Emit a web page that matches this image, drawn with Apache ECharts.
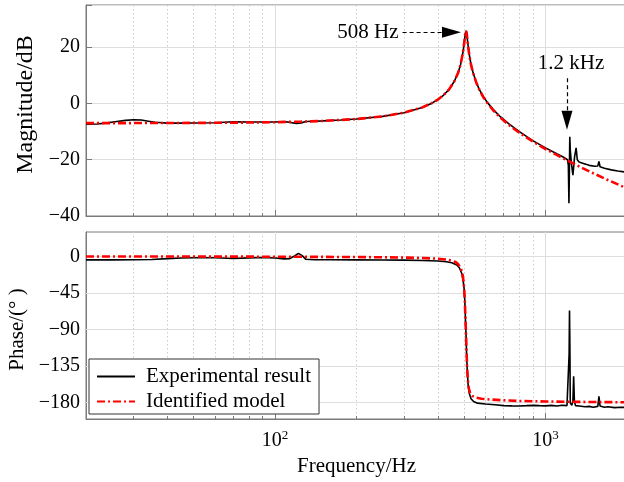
<!DOCTYPE html>
<html><head><meta charset="utf-8">
<script src="https://cdn.jsdelivr.net/npm/echarts@6/dist/echarts.min.js"></script>
<style>html,body{margin:0;padding:0;background:#fff}#c{width:624px;height:482px}</style>
</head><body><div id="c"></div>
<script>
// ---- data ----
const magModelFreq = [20,25,30,40,50,60,80,100,125,150,200,250,300,350,380,400,420,440,460,475,485,495,500,505,508,511,516,522,530,540,555,570,590,610,640,680,730,800,900,1000,1100,1200,1350,1500,1700,2000];
const magModel = [-7.0,-7.0,-6.97,-6.95,-6.91,-6.88,-6.78,-6.66,-6.46,-6.21,-5.54,-4.59,-3.27,-1.41,0.12,1.4,3.0,5.0,7.9,10.9,13.8,18.2,21.3,25.0,25.8,25.0,21.2,17.4,13.8,10.7,7.3,4.7,2.1,0.1,-2.4,-5.0,-7.6,-10.4,-13.6,-16.2,-18.3,-20.2,-22.7,-24.8,-27.2,-30.2];

const magExpFreq = [20,22,24,26,28,30,32,34,36,40,45,50,60,70,80,90,100,108,115,120,125,130,140,150,175,200,250,300,350,380,400,420,440,460,475,485,495,500,505,508,511,516,522,530,540,555,570,590,610,640,680,730,800,900,1000,1100,1180,1205,1214,1220,1224,1229,1234,1245,1262,1280,1297,1310,1330,1380,1450,1520,1560,1575,1590,1650,1750,1850,2000];
const magExp = [-7.4,-7.3,-6.9,-6.4,-6.0,-5.8,-5.9,-6.3,-6.7,-7.0,-7.0,-6.95,-6.85,-6.5,-6.6,-6.6,-6.6,-6.4,-6.8,-7.1,-6.9,-6.4,-6.3,-6.2,-5.9,-5.5,-4.6,-3.3,-1.4,0.1,1.4,3.0,5.0,7.9,10.9,13.8,18.2,21.2,24.9,25.9,25.0,21.3,17.5,13.9,10.8,7.4,4.8,2.3,0.3,-2.1,-4.7,-7.2,-10.0,-13.3,-15.8,-17.9,-19.4,-20.0,-22.0,-35.5,-26.0,-11.8,-16.5,-21.0,-25.5,-19.0,-15.8,-20.0,-20.8,-21.3,-22.0,-22.3,-22.2,-20.6,-22.5,-23.0,-23.6,-24.0,-24.5];

const phModelFreq = [20,50,100,150,200,250,300,350,400,430,450,465,475,485,492,497,500,503,506,508,510,513,516,520,526,535,550,580,620,700,800,1000,1300,1600,2000];
const phModel = [-0.1,-0.2,-0.4,-0.6,-0.8,-1.1,-1.5,-2.0,-2.8,-3.8,-5.2,-7.0,-9.5,-14,-20,-30,-40,-55,-80,-95,-115,-138,-152,-162,-168,-171.5,-173.5,-175,-176,-177,-177.8,-178.4,-178.9,-179.2,-179.4];

const phExpFreq = [20,25,30,35,40,45,50,60,70,80,90,100,108,113,118,122,126,130,140,160,200,250,300,350,400,430,450,470,480,490,495,500,503,506,508,510,513,517,522,530,542,560,600,650,700,750,800,850,900,950,1000,1050,1100,1150,1200,1218,1222,1226,1230,1234,1250,1262,1270,1278,1290,1330,1400,1450,1500,1560,1575,1590,1650,1700,1800,1900,2000];
const phExp = [-4.3,-4.3,-4.2,-3.8,-2.8,-2.0,-1.6,-1.7,-2.6,-1.8,-1.4,-2.0,-3.0,-2.8,0.5,3.7,1.0,-3.6,-4.2,-4.2,-4.3,-4.4,-4.6,-5.0,-5.6,-6.5,-7.8,-10.5,-14,-21,-28,-40,-55,-80,-95,-115,-138,-157,-168,-175,-178.5,-180.5,-181.5,-182.5,-183.5,-183.8,-184,-183.6,-183.2,-183.6,-183.8,-183.2,-184,-183,-183.5,-182.5,-120,-66.6,-110,-180.5,-183,-178,-147.5,-178,-183.5,-184,-185,-184.5,-185.5,-184.5,-172,-184,-185.5,-185,-186,-185.5,-186];

const magTicks = [-40, -20, 0, 20];
const phaseTicks = [-180, -135, -90, -45, 0];
const xTickLabels = {100: '{b|10}{s|2}', 1000: '{b|10}{s|3}'};
const seriesNames = ['Experimental result', 'Identified model'];
const axisNames = {mag: 'Magnitude/dB', phase: 'Phase/(° )', freq: 'Frequency/Hz'};
const peakNote = {text: '508 Hz', from: [296, 25.3], to: [449, 25.3]};
const modeNote = {text: '1.2 kHz', from: [1200, 9.0], to: [1200, -6.0]};

// ---- chart ----
const FONT = 'Liberation Serif';
const AX = '#7a7a7a';
const GRIDC = '#dddddd';
const zip = (f, v) => f.map((x, i) => [x, v[i]]);
const minus = v => String(v).replace('-', '\u2212');

function xAxisCfg(gi, showLabels) {
  return {
    type: 'log', logBase: 10, gridIndex: gi, min: 20, max: 2000,
    name: showLabels ? axisNames.freq : '', nameLocation: 'middle', nameGap: 37,
    nameTextStyle: {fontFamily: FONT, fontSize: 21, color: '#000'},
    axisLine: {show: true, onZero: false, lineStyle: {color: AX, width: 1}},
    axisTick: {show: true, inside: true, length: 6, lineStyle: {color: AX}},
    minorTick: {show: true, splitNumber: 9, length: 3, lineStyle: {color: AX}},
    splitLine: {show: true, lineStyle: {color: GRIDC, width: 1}},
    minorSplitLine: {show: true, lineStyle: {color: '#cdcdcd', width: 1, type: [1.5, 2.5]}},
    axisLabel: {
      show: showLabels, margin: 10,
      formatter: v => xTickLabels[Math.round(v)] || '',
      rich: {
        b: {fontFamily: FONT, fontSize: 20, color: '#000', verticalAlign: 'bottom'},
        s: {fontFamily: FONT, fontSize: 13, color: '#000', verticalAlign: 'top', padding: [0, 0, 9, 0]}
      }
    }
  };
}

const option = {
  animation: false,
  backgroundColor: '#fff',
  grid: [
    {left: 86, top: 5, width: 541, height: 211, show: true, borderColor: AX, borderWidth: 1,
     backgroundColor: 'transparent', outerBoundsMode: 'none', containLabel: false},
    {left: 86, top: 232, width: 541, height: 187, show: true, borderColor: AX, borderWidth: 1,
     backgroundColor: 'transparent', outerBoundsMode: 'none', containLabel: false}
  ],
  xAxis: [xAxisCfg(0, false), xAxisCfg(1, true)],
  yAxis: [
    {
      type: 'value', gridIndex: 0, min: -40, max: 35, interval: 20,
      name: axisNames.mag, nameLocation: 'middle', nameGap: 46,
      nameTextStyle: {fontFamily: FONT, fontSize: 24, color: '#000', padding: [0, 0, 0, 12]},
      axisLine: {show: true, lineStyle: {color: AX}},
      axisTick: {show: true, inside: true, length: 6, lineStyle: {color: AX}},
      splitLine: {show: true, lineStyle: {color: GRIDC, width: 1}},
      axisLabel: {margin: 6, fontFamily: FONT, fontSize: 20, color: '#000',
        formatter: v => magTicks.includes(v) ? minus(v) : ''}
    },
    {
      type: 'value', gridIndex: 1, min: -200, max: 30,
      name: axisNames.phase, nameLocation: 'middle', nameGap: 58,
      nameTextStyle: {fontFamily: FONT, fontSize: 21, color: '#000', padding: [0, 8, 0, 0]},
      axisLine: {show: true, lineStyle: {color: AX}},
      axisTick: {show: true, inside: true, length: 6, lineStyle: {color: AX}, customValues: phaseTicks},
      splitLine: {show: false},
      axisLabel: {margin: 6, fontFamily: FONT, fontSize: 20, color: '#000', customValues: phaseTicks,
        formatter: v => phaseTicks.includes(v) ? minus(v) : ''}
    }
  ],
  legend: {
    orient: 'vertical', left: 89, top: 359,
    data: seriesNames,
    backgroundColor: '#fff', borderColor: '#333', borderWidth: 1, borderRadius: 0,
    padding: [7, 8, 2, 7], itemGap: 4, itemWidth: 38, itemHeight: 14,
    itemStyle: {opacity: 0},
    textStyle: {fontFamily: FONT, fontSize: 21, color: '#000', padding: [0, 0, 0, 6]}
  },
  series: [
    {
      name: seriesNames[0], type: 'line', xAxisIndex: 0, yAxisIndex: 0,
      data: zip(magExpFreq, magExp), showSymbol: false, symbol: 'none',
      lineStyle: {color: '#000', width: 1.6}, itemStyle: {color: '#000'}, z: 2
    },
    {
      name: seriesNames[1], type: 'line', xAxisIndex: 0, yAxisIndex: 0,
      data: zip(magModelFreq, magModel), showSymbol: false, symbol: 'none',
      lineStyle: {color: '#ff0000', width: 2.6, type: [8, 3, 2, 3]}, itemStyle: {color: '#ff0000'}, z: 3,
      markLine: {
        silent: true, animation: false, symbol: ['none', 'triangle'],
        lineStyle: {color: '#000', width: 1.2, type: [4, 3]},
        label: {show: true, position: 'start', distance: 4, fontFamily: FONT, fontSize: 21, color: '#000'},
        data: [
          [{coord: peakNote.from, symbol: 'none', label: {formatter: peakNote.text, distance: 4}},
           {coord: peakNote.to, symbol: 'triangle', symbolSize: [11, 19]}],
          [{coord: modeNote.from, symbol: 'none', label: {formatter: modeNote.text, distance: 4, padding: [0, 0, 0, 8]}},
           {coord: modeNote.to, symbol: 'triangle', symbolSize: [11, 19]}]
        ]
      }
    },
    {
      name: seriesNames[0], type: 'line', xAxisIndex: 1, yAxisIndex: 1,
      data: zip(phExpFreq, phExp), showSymbol: false, symbol: 'none',
      lineStyle: {color: '#000', width: 1.6}, itemStyle: {color: '#000'}, z: 2,
      markLine: {
        silent: true, animation: false, symbol: ['none', 'none'], z: 1,
        lineStyle: {color: GRIDC, width: 1, type: 'solid'},
        label: {show: false},
        data: phaseTicks.map(v => ({yAxis: v}))
      }
    },
    {
      name: seriesNames[1], type: 'line', xAxisIndex: 1, yAxisIndex: 1,
      data: zip(phModelFreq, phModel), showSymbol: false, symbol: 'none',
      lineStyle: {color: '#ff0000', width: 2.6, type: [8, 3, 2, 3]}, itemStyle: {color: '#ff0000'}, z: 3
    }
  ]
};
echarts.init(document.getElementById('c'), null, {renderer: 'canvas'}).setOption(option);
</script>
</body></html>
